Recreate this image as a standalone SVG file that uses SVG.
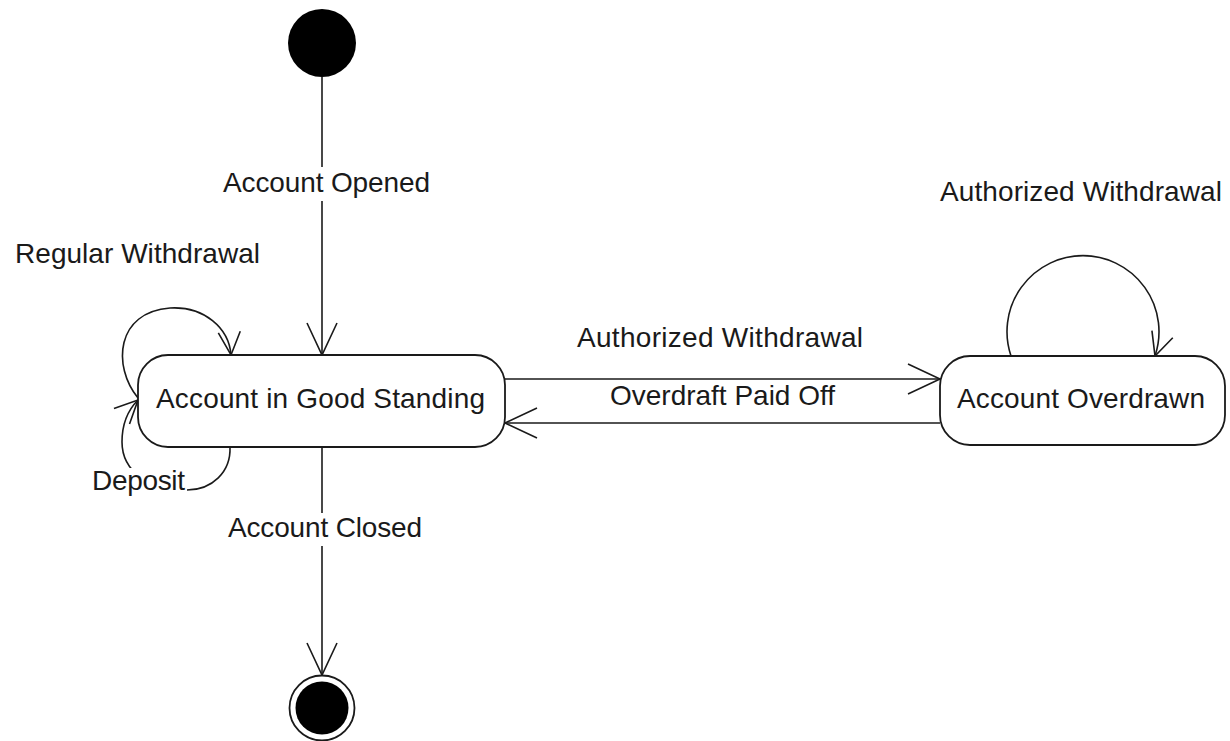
<svg xmlns="http://www.w3.org/2000/svg" width="1230" height="741" viewBox="0 0 1230 741">
  <style>
    .state { fill: #ffffff; stroke: #1a1a1a; stroke-width: 1.8; }
    .edge { fill: none; stroke: #1a1a1a; stroke-width: 1.6; }
    .lbl { font-family: "Liberation Sans", Arial, sans-serif; font-size: 28px; fill: #1a1a1a; }
    .lblbg { fill: #ffffff; stroke: none; }
  </style>
  <defs>
    <marker id="open" markerUnits="userSpaceOnUse" markerWidth="40" markerHeight="40" viewBox="-34 -20 40 40" refX="0" refY="0" orient="auto">
      <path d="M-32,-15 L0,0 L-32,15" fill="none" stroke="#1a1a1a" stroke-width="1.6"/>
    </marker>
    <marker id="open-sm" markerUnits="userSpaceOnUse" markerWidth="30" markerHeight="30" viewBox="-26 -15 30 30" refX="0" refY="0" orient="auto">
      <path d="M-23,-11 L0,0 L-23,11" fill="none" stroke="#1a1a1a" stroke-width="1.6"/>
    </marker>
  </defs>
  <rect width="1230" height="741" fill="#ffffff"/>

  <!-- transitions -->
  <g id="connectors">
    <line class="edge" x1="322" y1="77" x2="322" y2="355" marker-end="url(#open)"/>
    <line class="edge" x1="322" y1="447" x2="322" y2="675" marker-end="url(#open)"/>
    <line class="edge" x1="505" y1="379" x2="940" y2="379" marker-end="url(#open)"/>
    <line class="edge" x1="940" y1="423" x2="505" y2="423" marker-end="url(#open)"/>
    <!-- self transitions -->
    <path class="edge" d="M1011,356 A76,76 0 1 1 1155,356" marker-end="url(#open-sm)"/>
    <path class="edge" d="M138,398 C112,366 116,312 170,308 C204,306 229,328 231,355" marker-end="url(#open-sm)"/>
    <path class="edge" d="M230,447 C231,472 212,490 187,490 C150,490 122,472 122,442 C122,424 128,410 138,400" marker-end="url(#open-sm)"/>

    <!-- transition labels -->
    <rect class="lblbg" x="221" y="167" width="211" height="34"/>
    <text class="lbl" x="223" y="192" textLength="207">Account Opened</text>
    <text class="lbl" x="15" y="263" textLength="245">Regular Withdrawal</text>
    <text class="lbl" x="940" y="201" textLength="282">Authorized Withdrawal</text>
    <text class="lbl" x="577" y="347" textLength="286">Authorized Withdrawal</text>
    <text class="lbl" x="610" y="405" textLength="225">Overdraft Paid Off</text>
    <rect class="lblbg" x="90" y="468" width="97" height="29"/>
    <text class="lbl" x="92" y="490" textLength="93">Deposit</text>
    <rect class="lblbg" x="226" y="513" width="198" height="33"/>
    <text class="lbl" x="228" y="537" textLength="194">Account Closed</text>
  </g>

  <g id="initial">
    <circle cx="322" cy="43" r="34" fill="#000000"/>
  </g>

  <g id="good-standing">
    <rect class="state" x="138" y="355" width="367" height="92" rx="30" ry="30"/>
    <text class="lbl" x="156" y="408" textLength="329">Account in Good Standing</text>
  </g>

  <g id="overdrawn">
    <rect class="state" x="940" y="356" width="285" height="89" rx="30" ry="30"/>
    <text class="lbl" x="957" y="408" textLength="248">Account Overdrawn</text>
  </g>

  <g id="final">
    <circle cx="322" cy="708" r="32.5" fill="#ffffff" stroke="#1a1a1a" stroke-width="1.8"/>
    <circle cx="322" cy="708" r="26.5" fill="#000000"/>
  </g>
</svg>
